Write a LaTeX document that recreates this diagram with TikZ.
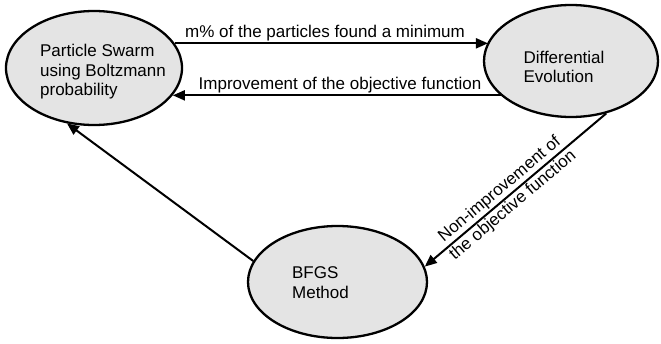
\documentclass[tikz,border=0pt]{standalone}
\usepackage{fontspec}
\setmainfont{Liberation Sans}
\usetikzlibrary{shapes.geometric,arrows.meta}
\definecolor{ellfill}{RGB}{228,228,228}
\tikzset{
  ell/.style={ellipse, draw=black, line width=2.3pt, fill=ellfill, inner sep=0pt},
  txt/.style={font=\fontsize{17}{19.5}\selectfont, inner sep=0pt, align=left},
  lbl/.style={font=\fontsize{17}{19.5}\selectfont, inner sep=1.5pt, align=center},
  conn/.style={line width=2pt, -{Triangle[length=12pt,width=10pt]}},
}
\begin{document}
\begin{tikzpicture}[x=1pt,y=-1pt]
\useasboundingbox (0,0) rectangle (661,343);
\node[ell, minimum width=176pt, minimum height=114pt] (ps) at (94,68) {};
\node[ell, minimum width=174pt, minimum height=112pt] (de) at (571,61) {};
\node[ell, minimum width=179pt, minimum height=112pt] (bf) at (337.5,282) {};
\node[txt] (pst) at (103,72) {Particle Swarm\\using Boltzmann\\probability};
\node[txt] (det) at (564,67) {Differential\\Evolution};
\node[txt] (bft) at (320.5,282.5) {BFGS\\Method};
\draw[conn] (ps.17.5) -- node[lbl, above, pos=0.48] (l1) {m\% of the particles found a minimum} (de.167.7 |- ps.17.5);
\draw[conn] (de.206.2) -- node[lbl, above, pos=0.49] (l2) {Improvement of the objective function} (ps.-19.2 |- de.206.2);
\draw[conn] (de.-56.8) -- node[lbl, sloped, pos=0.55, inner sep=0pt, font=\fontsize{17}{20.5}\selectfont] (l3) {Non-improvement of\\the objective function} (bf.10);
\draw[conn] (bf.166.7) -- (ps.244.3);
\end{tikzpicture}
\end{document}
